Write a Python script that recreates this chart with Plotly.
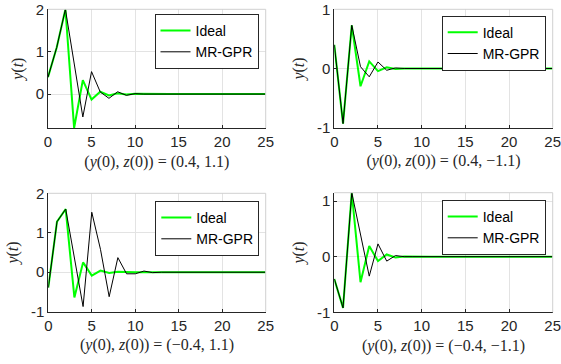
import plotly.graph_objects as go

t = list(range(26))

ideal_1 = [0.4, 1.1, 2.0, -0.8, 0.33, -0.13, 0.055, -0.03, 0.02, -0.01, 0.005, 0, 0, 0, 0, 0, 0, 0, 0, 0, 0, 0, 0, 0, 0, 0]
gpr_1 = [0.4, 1.1, 2.0, 0.74, -0.54, 0.53, 0.05, -0.1, 0.055, -0.03, 0.01, 0, 0, 0, 0, 0, 0, 0, 0, 0, 0, 0, 0, 0, 0, 0]

ideal_2 = [0.4, -0.93, 0.73, -0.3, 0.12, -0.045, 0.02, -0.01, 0, 0, 0, 0, 0, 0, 0, 0, 0, 0, 0, 0, 0, 0, 0, 0, 0, 0]
gpr_2 = [0.4, -0.93, 0.73, 0.03, -0.14, 0.11, -0.03, 0.01, 0, 0, 0, 0, 0, 0, 0, 0, 0, 0, 0, 0, 0, 0, 0, 0, 0, 0]

ideal_3 = [-0.39, 1.28, 1.6, -0.64, 0.25, -0.085, 0.04, -0.02, 0.01, 0, 0, 0, 0, 0, 0, 0, 0, 0, 0, 0, 0, 0, 0, 0, 0, 0]
gpr_3 = [-0.39, 1.28, 1.6, 0.37, -0.87, 1.52, 0.58, -0.62, 0.37, -0.04, -0.04, 0.03, -0.01, 0, 0, 0, 0, 0, 0, 0, 0, 0, 0, 0, 0, 0]

ideal_4 = [-0.4, -0.92, 1.15, -0.46, 0.19, -0.08, 0.04, -0.015, 0.005, 0, 0, 0, 0, 0, 0, 0, 0, 0, 0, 0, 0, 0, 0, 0, 0, 0]
gpr_4 = [-0.4, -0.92, 1.15, 0.4, -0.35, 0.23, -0.08, 0.02, 0, 0, 0, 0, 0, 0, 0, 0, 0, 0, 0, 0, 0, 0, 0, 0, 0, 0]

titles = [
    "(<i>y</i>(0), <i>z</i>(0)) = (0.4, 1.1)",
    "(<i>y</i>(0), <i>z</i>(0)) = (0.4, −1.1)",
    "(<i>y</i>(0), <i>z</i>(0)) = (−0.4, 1.1)",
    "(<i>y</i>(0), <i>z</i>(0)) = (−0.4, −1.1)",
]
y_ranges = [[-0.8, 2], [-1, 1], [-1, 2], [-1, 1.15]]
y_ticks = [[0, 1, 2], [-1, 0, 1], [-1, 0, 1, 2], [-1, 0, 1]]
x_ticks = [0, 5, 10, 15, 20, 25]

W, H = 561, 364
x_doms = [[48 / W, 265.7 / W], [334.3 / W, 552.7 / W], [48.3 / W, 265.7 / W], [334.3 / W, 552.7 / W]]
y_doms = [[1 - 128 / H, 1 - 9.3 / H], [1 - 127.7 / H, 1 - 9.3 / H],
          [1 - 311.7 / H, 1 - 193.3 / H], [1 - 312.3 / H, 1 - 192.7 / H]]
legend_pos = [(258.5 / W, 1 - 14 / H), (545.7 / W, 1 - 15.7 / H),
              (259.3 / W, 1 - 201 / H), (545.7 / W, 1 - 200 / H)]

ideals = [ideal_1, ideal_2, ideal_3, ideal_4]
gprs = [gpr_1, gpr_2, gpr_3, gpr_4]

fig = go.Figure()
layout = dict(
    width=W, height=H, margin=dict(l=0, r=0, t=0, b=0, autoexpand=False),
    paper_bgcolor="white", plot_bgcolor="white", showlegend=True,
    font=dict(family="Liberation Sans, Arial", size=15, color="#262626"),
)
shapes = []
tick_font = dict(family="Liberation Sans, Arial", size=15, color="#262626")
serif = dict(family="Liberation Serif, Times New Roman, serif", size=16, color="#262626")

for i in range(4):
    sfx = "" if i == 0 else str(i + 1)
    leg = "legend" if i == 0 else f"legend{i + 1}"
    fig.add_trace(go.Scatter(x=t, y=ideals[i], mode="lines", name="Ideal",
                             line=dict(color="#00ff00", width=2),
                             xaxis="x" + sfx, yaxis="y" + sfx, legend=leg))
    fig.add_trace(go.Scatter(x=t, y=gprs[i], mode="lines", name="MR-GPR",
                             line=dict(color="black", width=1),
                             xaxis="x" + sfx, yaxis="y" + sfx, legend=leg))
    layout["xaxis" + sfx] = dict(
        domain=x_doms[i], anchor="y" + sfx, range=[0, 25],
        tickmode="array", tickvals=x_ticks, ticktext=[str(v) for v in x_ticks],
        showgrid=True, gridcolor="#e3e3e3", gridwidth=1, zeroline=False,
        showline=True, linecolor="#262626", linewidth=1,
        ticks="inside", ticklen=3, tickcolor="#262626", tickfont=tick_font,
        ticklabeloverflow="allow",
        title=dict(text=titles[i], font=serif, standoff=6),
        automargin=False,
    )
    layout["yaxis" + sfx] = dict(
        domain=y_doms[i], anchor="x" + sfx, range=y_ranges[i],
        tickmode="array", tickvals=y_ticks[i], ticktext=[str(v) for v in y_ticks[i]],
        showgrid=True, gridcolor="#e3e3e3", gridwidth=1, zeroline=False,
        showline=True, linecolor="#262626", linewidth=1,
        ticks="inside", ticklen=3, tickcolor="#262626", tickfont=tick_font,
        ticklabeloverflow="allow",
        title=dict(text="<i>y</i>(<i>t</i>)", font=serif, standoff=8),
        automargin=False,
    )
    layout[leg] = dict(
        x=legend_pos[i][0], y=legend_pos[i][1], xanchor="right", yanchor="top",
        bgcolor="white", bordercolor="#262626", borderwidth=1,
        font=dict(family="Liberation Sans, Arial", size=14, color="black"),
        tracegroupgap=0, itemwidth=30,
    )
    xr = "x" + sfx + " domain"
    yr = "y" + sfx + " domain"
    shapes.append(dict(type="line", xref=xr, yref=yr, x0=0, x1=1, y0=1, y1=1,
                       line=dict(color="#d0d0d0", width=1)))
    shapes.append(dict(type="line", xref=xr, yref=yr, x0=1, x1=1, y0=0, y1=1,
                       line=dict(color="#d0d0d0", width=1)))

layout["shapes"] = shapes
fig.update_layout(**layout)
fig.write_html("out.html", config={"displayModeBar": False},
               post_script="document.body.style.margin='0';")
